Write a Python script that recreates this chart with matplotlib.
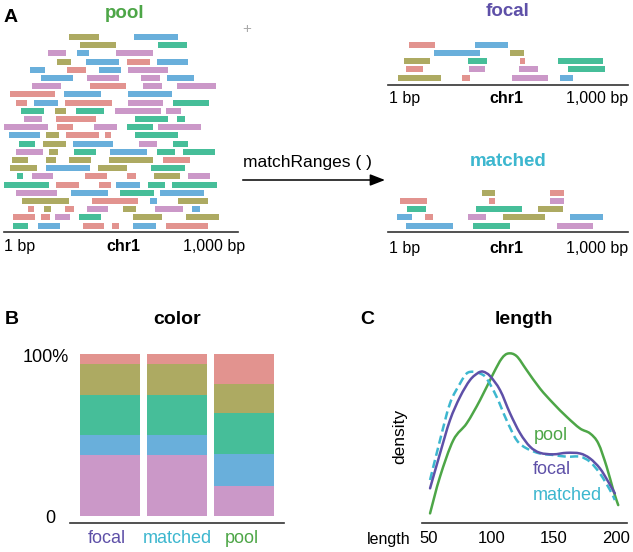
import matplotlib
matplotlib.use("Agg")
import matplotlib.pyplot as plt
from matplotlib.path import Path
from matplotlib.patches import PathPatch

plt.rcParams['font.family'] = ['Liberation Sans', 'DejaVu Sans']

W, H = 633, 552

# ---------------- data ----------------
COLORS = {'r': '#E2938F', 'o': '#ADAA62', 'g': '#46BE99', 'b': '#69AFDB', 'p': '#CB98C8'}

# pool ranges: one list per row (top to bottom) of (color, start bp, end bp)
pool_rows = [
    [('o', 291, 416), ('b', 564, 746)],
    [('o', 336, 487), ('g', 664, 785)],
    [('p', 202, 276), ('b', 322, 372), ('p', 487, 644)],
    [('o', 238, 297), ('b', 360, 500), ('r', 532, 630), ('b', 659, 791)],
    [('b', 127, 190), ('r', 280, 360), ('b', 417, 507), ('p', 540, 704)],
    [('b', 172, 308), ('p', 365, 500), ('p', 591, 672), ('b', 700, 815)],
    [('p', 134, 258), ('r', 377, 528), ('p', 602, 680), ('p', 742, 907)],
    [('r', 42, 230), ('b', 269, 423), ('b', 539, 724)],
    [('r', 67, 115), ('b', 143, 244), ('r', 274, 472), ('p', 536, 683), ('g', 727, 879)],
    [('g', 87, 186), ('o', 230, 279), ('g', 318, 437), ('p', 483, 675), ('p', 699, 759)],
    [('p', 99, 176), ('r', 234, 402), ('g', 567, 708), ('g', 743, 776)],
    [('p', 15, 200), ('r', 239, 305), ('p', 395, 491), ('g', 532, 641), ('p', 662, 843)],
    [('b', 39, 167), ('o', 195, 246), ('r', 279, 416), ('r', 440, 465), ('g', 566, 749)],
    [('g', 80, 148), ('o', 179, 276), ('b', 305, 473), ('p', 584, 661), ('g', 725, 790)],
    [('p', 69, 181), ('o', 207, 245), ('g', 311, 405), ('b', 461, 617), ('g', 659, 734), ('g', 769, 902)],
    [('o', 50, 118), ('o', 193, 235), ('o', 288, 381), ('o', 456, 643), ('r', 687, 799)],
    [('o', 43, 154), ('b', 193, 378), ('o', 413, 533), ('g', 634, 778)],
    [('g', 70, 98), ('p', 133, 221), ('r', 358, 448), ('r', 532, 571), ('o', 648, 755), ('p', 792, 883)],
    [('g', 15, 206), ('r', 234, 333), ('r', 414, 465), ('b', 486, 587), ('g', 622, 692), ('g', 724, 913)],
    [('p', 67, 239), ('b', 300, 452), ('g', 505, 648), ('b', 673, 857)],
    [('o', 94, 288), ('r', 385, 578), ('b', 629, 659), ('o', 749, 874)],
    [('r', 118, 143), ('o', 186, 213), ('r', 272, 311), ('p', 364, 455), ('o', 519, 571), ('p', 651, 770), ('b', 808, 841)],
    [('r', 56, 148), ('r', 172, 209), ('p', 231, 294), ('g', 330, 424), ('o', 561, 682), ('o', 780, 920)],
    [('g', 53, 116), ('b', 158, 253), ('r', 347, 435), ('r', 469, 498), ('b', 557, 657), ('r', 697, 872)],
]

focal_rows = [
    [('r', 103, 214), ('b', 379, 520)],
    [('b', 207, 400), ('o', 529, 585)],
    [('o', 82, 191), ('g', 350, 431), ('r', 568, 592), ('g', 728, 919)],
    [('r', 89, 161), ('p', 355, 422), ('p', 565, 644), ('g', 770, 928)],
    [('o', 57, 236), ('r', 326, 359), ('p', 537, 688), ('b', 736, 793)],
]

matched_rows = [
    [('o', 411, 463), ('r', 695, 756)],
    [('r', 65, 177), ('r', 438, 463), ('p', 695, 756)],
    [('g', 96, 175), ('g', 383, 578), ('o', 645, 751)],
    [('b', 51, 114), ('r', 170, 204), ('p', 350, 425), ('o', 498, 676), ('b', 778, 918)],
    [('b', 91, 287), ('g', 373, 527), ('p', 723, 877)],
]

# panel B: proportions bottom -> top (purple, blue, green, olive, red)
stack_order = ['p', 'b', 'g', 'o', 'r']
groups = ['focal', 'matched', 'pool']
prop_focal = [0.375, 0.124, 0.249, 0.188, 0.064]
prop_matched = [0.375, 0.124, 0.249, 0.188, 0.064]
prop_pool = [0.184, 0.200, 0.249, 0.184, 0.183]

# panel C: density curves (length, relative density)
pool_len = [50.8, 58.8, 69.5, 80.2, 90.9, 101.6, 108.3, 113.6, 120.3, 128.3, 139.0, 149.7, 160.4, 171.1, 179.1, 185.8, 192.5, 197.8, 201.8]
pool_den = [0.055, 0.272, 0.488, 0.587, 0.724, 0.882, 0.970, 1.0, 0.984, 0.902, 0.793, 0.705, 0.626, 0.557, 0.528, 0.469, 0.331, 0.193, 0.104]
focal_len = [50.8, 58.8, 66.8, 74.9, 82.9, 89.6, 93.6, 99.0, 107.0, 115.0, 123.1, 131.1, 139.0, 149.7, 160.4, 171.1, 179.1, 187.1, 193.8, 199.1]
focal_den = [0.203, 0.409, 0.606, 0.744, 0.843, 0.886, 0.892, 0.866, 0.783, 0.646, 0.528, 0.449, 0.413, 0.404, 0.413, 0.409, 0.380, 0.321, 0.242, 0.173]
matched_len = [50.8, 58.8, 66.8, 74.9, 80.2, 85.5, 90.9, 96.2, 104.2, 112.2, 120.3, 128.3, 139.0, 149.7, 160.4, 171.1, 179.1, 187.1, 195.2, 199.1]
matched_den = [0.252, 0.488, 0.705, 0.823, 0.882, 0.892, 0.882, 0.852, 0.744, 0.606, 0.488, 0.439, 0.409, 0.400, 0.390, 0.390, 0.360, 0.291, 0.193, 0.134]
length_ticks = [50, 100, 150, 200]

GREEN = '#4DA647'
PURPLE = '#5E50A8'
TEAL = '#3DB7CF'
AXC = '#333333'

# ---------------- figure ----------------
fig = plt.figure(figsize=(W / 100, H / 100), dpi=100)


def ax_px(left, top, width, height):
    return fig.add_axes([left / W, 1 - (top + height) / H, width / W, height / H])


def ftext(x, y, s, **kw):
    fig.text(x / W, 1 - y / H, s, **kw)


def draw_ranges(ax, rows, xlim, ylim):
    for i, row in enumerate(rows, start=1):
        for c, s, e in row:
            ax.barh(i, e - s, left=s, height=0.72, color=COLORS[c], edgecolor='none')
    ax.set_xlim(*xlim)
    ax.set_ylim(*ylim)
    for sp in ['top', 'left', 'right']:
        ax.spines[sp].set_visible(False)
    ax.spines['bottom'].set_color(AXC)
    ax.spines['bottom'].set_linewidth(1.2)
    ax.set_xticks([])
    ax.set_yticks([])
    ax.patch.set_alpha(0)


def smooth_line(ax, xs, ys, **kw):
    """Draw a smooth curve through the given points (Catmull-Rom as cubic Beziers)."""
    pts = list(zip(xs, ys))
    n = len(pts)
    verts = [pts[0]]
    codes = [Path.MOVETO]
    for i in range(n - 1):
        p0 = pts[i - 1] if i > 0 else pts[i]
        p1 = pts[i]
        p2 = pts[i + 1]
        p3 = pts[i + 2] if i + 2 < n else pts[i + 1]
        c1 = (p1[0] + (p2[0] - p0[0]) / 6, p1[1] + (p2[1] - p0[1]) / 6)
        c2 = (p2[0] - (p3[0] - p1[0]) / 6, p2[1] - (p3[1] - p1[1]) / 6)
        verts += [c1, c2, p2]
        codes += [Path.CURVE4] * 3
    ax.add_patch(PathPatch(Path(verts, codes), fill=False, **kw))


# Panel A: pool
ax_pool = ax_px(4, 30, 234, 202)
draw_ranges(ax_pool, pool_rows, (17, 1000), (24.78, 0.146))
# focal
ax_focal = ax_px(388, 38, 240, 47)
draw_ranges(ax_focal, focal_rows, (15, 1023), (5.885, 0.19))
# matched
ax_match = ax_px(388, 186, 240, 46.3)
draw_ranges(ax_match, matched_rows, (15, 1023), (5.8, 0.19))

ftext(4, 18, 'A', fontsize=14, fontweight='bold', va='center', ha='left')
ftext(124.5, 13, 'pool', fontsize=13.5, fontweight='bold', color=GREEN, ha='center', va='center')
ftext(247, 29, '+', fontsize=11, color='#AAAAAA', ha='center', va='center')
ftext(508, 12, 'focal', fontsize=13.5, fontweight='bold', color=PURPLE, ha='center', va='center')
ftext(508.5, 161.5, 'matched', fontsize=13.5, fontweight='bold', color=TEAL, ha='center', va='center')

for (x0, xm, x1, yy) in [(4, 123, 245, 246.5), (389, 506, 628.5, 98.5), (389, 506, 628.5, 248.3)]:
    ftext(x0, yy, '1 bp', fontsize=11.5, ha='left', va='center')
    ftext(xm, yy, 'chr1', fontsize=11.5, fontweight='bold', ha='center', va='center')
    ftext(x1, yy, '1,000 bp', fontsize=11.5, ha='right', va='center')

ftext(242.7, 162.3, 'matchRanges ( )', fontsize=12.5, ha='left', va='center')

overlay = fig.add_axes([0, 0, 1, 1])
overlay.set_xlim(0, W)
overlay.set_ylim(H, 0)
overlay.axis('off')
overlay.patch.set_alpha(0)
overlay.annotate('', xy=(385, 180), xytext=(242.7, 180),
                 arrowprops=dict(arrowstyle='-|>,head_length=0.9,head_width=0.35',
                                 color='black', lw=1.1, shrinkA=0, shrinkB=0))

# Panel B
ax_b = ax_px(70, 350, 214, 172.7)
bottoms = [0.0, 0.0, 0.0]
props = [prop_focal, prop_matched, prop_pool]
for k, c in enumerate(stack_order):
    vals = [p[k] for p in props]
    ax_b.bar(range(3), vals, bottom=bottoms, width=0.896, color=COLORS[c], edgecolor='none')
    bottoms = [b + v for b, v in zip(bottoms, vals)]
ax_b.set_xlim(-0.597, 2.597)
ax_b.set_ylim(-0.0433, 1.0247)
for sp in ['top', 'left', 'right']:
    ax_b.spines[sp].set_visible(False)
ax_b.spines['bottom'].set_color(AXC)
ax_b.spines['bottom'].set_linewidth(1.2)
ax_b.set_xticks([])
ax_b.set_yticks([])
ax_b.patch.set_alpha(0)

ftext(5, 320, 'B', fontsize=14, fontweight='bold', va='center', ha='left')
ftext(176.7, 320, 'color', fontsize=14, fontweight='bold', ha='center', va='center')
ftext(69.3, 357.3, '100%', fontsize=13, ha='right', va='center')
ftext(50.8, 518.3, '0', fontsize=13, ha='center', va='center')
for g, x, col in zip(groups, [106.7, 177.3, 242.3], [PURPLE, TEAL, GREEN]):
    ftext(x, 538.3, g, fontsize=13, color=col, ha='center', va='center')

# Panel C
ax_c = ax_px(421.7, 345, 205, 177.7)
smooth_line(ax_c, pool_len, pool_den, edgecolor=GREEN, lw=1.8, capstyle='round', joinstyle='round')
smooth_line(ax_c, matched_len, matched_den, edgecolor=TEAL, lw=1.8, linestyle=(0, (3.3, 1.7)))
smooth_line(ax_c, focal_len, focal_den, edgecolor=PURPLE, lw=1.8, capstyle='round', joinstyle='round')
ax_c.set_xlim(44.1, 208.6)
ax_c.set_ylim(0, 1.05)
for sp in ['top', 'left', 'right']:
    ax_c.spines[sp].set_visible(False)
ax_c.spines['bottom'].set_color(AXC)
ax_c.spines['bottom'].set_linewidth(1.2)
ax_c.set_xticks(length_ticks)
ax_c.set_xticklabels([str(t) for t in length_ticks], fontsize=12)
ax_c.tick_params(axis='x', length=0, pad=6)
ax_c.set_yticks([])
ax_c.patch.set_alpha(0)

ftext(360, 320, 'C', fontsize=14, fontweight='bold', va='center', ha='left')
ftext(524, 320, 'length', fontsize=14, fontweight='bold', ha='center', va='center')
ftext(400, 436.7, 'density', fontsize=12.5, rotation=90, ha='center', va='center')
ftext(388.3, 539.3, 'length', fontsize=11.5, ha='center', va='center')
ftext(534, 436, 'pool', fontsize=13, color=GREEN, ha='left', va='center')
ftext(533, 470, 'focal', fontsize=13, color=PURPLE, ha='left', va='center')
ftext(533, 495, 'matched', fontsize=13, color=TEAL, ha='left', va='center')

fig.savefig('out.png', dpi=100)
